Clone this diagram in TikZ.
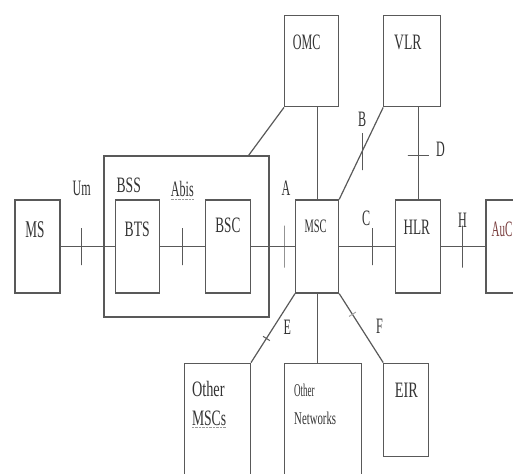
\documentclass[tikz,border=0pt]{standalone}
\usepackage{fontspec}
\setmainfont{Liberation Serif}
\usetikzlibrary{positioning,calc}
\newcommand{\nrw}[2][0.55]{\scalebox{#1}[1]{#2}}
\definecolor{spell}{RGB}{120,60,60}
\tikzset{box/.style={draw=black!65,line width=1.2pt,minimum height=93pt,inner sep=0pt},
boxtext/.style={inner sep=0pt,text=black!80,font=\fontsize{22}{24}\selectfont},
link/.style={draw=black!65,line width=1.2pt},
tick/.style={draw=black!65,line width=1pt,minimum width=0pt,minimum height=37pt,inner sep=0pt,outer sep=0pt},
htick/.style={tick,minimum height=0pt,minimum width=21pt},
lbl/.style={inner sep=0pt,text=black!80,font=\fontsize{22}{24}\selectfont}}

\begin{document}
\begin{tikzpicture}[x=1pt,y=-1pt]
\clip (0,0) rectangle (513,473);
% BSS frame
\node[box,minimum width=165pt,minimum height=161pt] (bss) at (186.5,236.5) {};
% main row
\node[box,minimum width=45pt] (ms) at (37.5,246.5) {};
\node[box,minimum width=44pt] (bts) [right=54pt of ms] {};
\node[box,minimum width=45pt] (bsc) [right=45pt of bts] {};
\node[box,minimum width=43pt] (msc) [right=44pt of bsc] {};
\node[box,minimum width=45pt] (hlr) [right=56pt of msc] {};
\node[box,minimum width=45pt] (auc) [right=44pt of hlr] {};
% top and bottom boxes
\node[box,minimum width=54pt,minimum height=91pt] (omc) [above left=92pt and 0pt of msc.north east] {};
\node[box,minimum width=57pt,minimum height=91pt] (vlr) [above left=92pt and 0pt of hlr.north east] {};
\node[box,minimum width=66pt,minimum height=130pt] (omsc) [below left=69pt and 0pt of bsc.south east] {};
\node[box,minimum width=77pt,minimum height=130pt] (onet) [below right=69pt and -11pt of msc.south west] {};
\node[box,minimum width=45pt] (eir) [below right=69pt and 44pt of msc.south east] {};

% box texts
\node[boxtext,font=\fontsize{24}{26}\selectfont] (mst) [below=22pt of ms.north, xshift=-2.5pt] {\nrw{MS}};
\node[boxtext] (btst) [below=22pt of bts.north] {\nrw[0.62]{BTS}};
\node[boxtext] (bsct) [below=18pt of bsc.north] {\nrw[0.6]{BSC}};
\node[boxtext,font=\fontsize{19}{21}\selectfont] (msct) [below=20pt of msc.north, xshift=-1.5pt] {\nrw{MSC}};
\node[boxtext] (hlrt) [below=20pt of hlr.north, xshift=-1.5pt] {\nrw[0.6]{HLR}};
\node[boxtext,text=spell] (auct) [below=22pt of auc.north, xshift=-6.5pt] {\nrw[0.5]{AuC}};
\node[boxtext] (omct) [below=20pt of omc.north, xshift=-5pt] {\nrw{OMC}};
\node[boxtext] (vlrt) [below=20pt of vlr.north, xshift=-4.5pt] {\nrw[0.62]{VLR}};
\node[boxtext] (eirt) [below=20pt of eir.north] {\nrw[0.65]{EIR}};
\node[boxtext] (omsct) [below right=18pt and 8pt of omsc.north west] {\nrw[0.65]{Other}};
\node[boxtext] (mscst) [below right=14pt and 0pt of omsct.south west] {\nrw[0.62]{MSCs}};
\draw[densely dotted,black!40] ([yshift=-2pt]mscst.south west) -- ([yshift=-2pt]mscst.south east);
\node[boxtext,font=\fontsize{18}{20}\selectfont] (onett) [below right=21pt and 10pt of onet.north west] {\nrw[0.5]{Other}};
\node[boxtext,font=\fontsize{18}{20}\selectfont] (networkst) [below right=15pt and 0pt of onett.south west] {\nrw[0.6]{Networks}};

% interfaces
\draw[link] (ms) -- (bts) node[tick,pos=.39] (um) {};
\draw[link] (bts) -- (bsc) node[tick,pos=.5] (abis) {};
\draw[link] (bsc) -- (msc) node[tick,pos=.75,minimum height=42pt] (a) {};
\draw[link] (msc) -- (hlr) node[tick,pos=.59] (c) {};
\draw[link] (hlr) -- (auc) node[tick,pos=.48,minimum height=42pt] (h) {};
\draw[link] (omc.south -| msc.north) -- (msc.north);
\draw[link] (omc.south west) -- ($(bss.north east)+(-21pt,0)$);
\draw[link] (vlr.south west) -- (msc.north east) node[tick,pos=.48] (b) {};
\draw[link] (hlr.north |- vlr.south) -- (hlr.north) node[htick,pos=.52] (d) {};
\draw[link] (msc.south west) -- (omsc.north east) node[tick,sloped,pos=.65,minimum height=8pt] (e) {};
\draw[link] (msc.south) -- (msc.south |- onet.north);
\draw[link] (msc.south east) -- (eir.north west) node[tick,sloped,pos=.3,minimum height=8pt,draw=black!35] (f) {};

% interface labels
\node[lbl] (uml) [above=32pt of um] {\nrw{Um}};
\node[lbl] (abisl) [above=31pt of abis] {\nrw{Abis}};
\draw[densely dotted,black!40] ([yshift=-2pt]abisl.south west) -- ([yshift=-2pt]abisl.south east);
\node[lbl] (al) [above=30pt of a, xshift=2pt] {\nrw{A}};
\node[lbl] (bssl) [below right=22pt and 13pt of bss.north west] {\nrw[0.62]{BSS}};
\node[lbl] (bl) [above=6pt of b] {\nrw{B}};
\node[lbl] (cl) [above=2pt of c, xshift=-6pt] {\nrw{C}};
\node[lbl] (dl) [right=7pt of d, yshift=6pt] {\nrw{D}};
\node[lbl] (hl) [above=-2pt of h] {\nrw{H}};
\node[lbl] (el) at ($(e)+(21pt,11pt)$) {\nrw{E}};
\node[lbl] (fl) at ($(f)+(27pt,-12pt)$) {\nrw{F}};
\end{tikzpicture}
\end{document}
